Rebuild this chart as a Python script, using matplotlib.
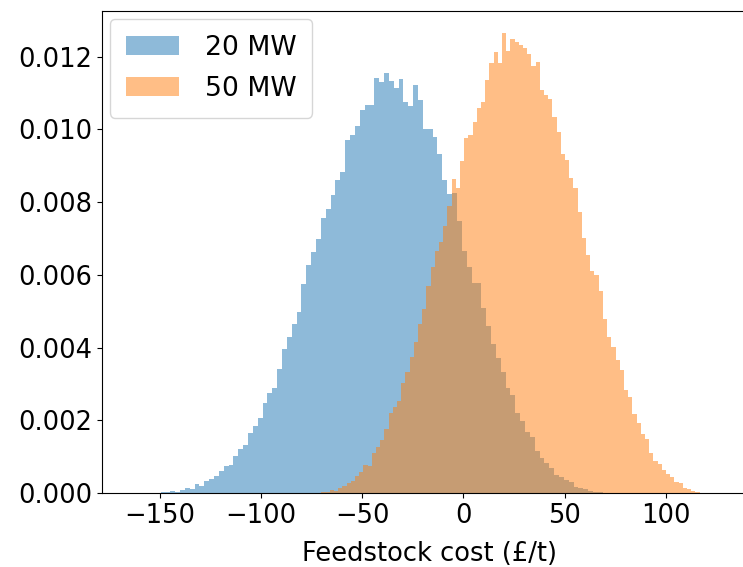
import numpy as np
from matplotlib import pyplot as plt

# bin heights, in units of 1e-3 (density)
heights_20mw = [0.03, 0.03, 0.06, 0.04, 0.07, 0.14, 0.11, 0.26, 0.18, 0.32,
                0.39, 0.48, 0.60, 0.74, 0.76, 1.03, 1.20, 1.31, 1.66, 1.84,
                2.06, 2.48, 2.76, 2.90, 3.42, 3.96, 4.28, 4.66, 4.99, 5.74,
                6.28, 6.63, 6.99, 7.57, 7.82, 8.20, 8.61, 8.82, 9.70, 9.83,
                10.09, 10.52, 10.66, 10.66, 11.41, 11.30, 11.56, 11.32, 11.14, 11.37,
                10.75, 10.64, 11.21, 10.80, 10.00, 10.02, 9.78, 9.31, 8.60, 8.21,
                8.24, 7.49, 6.66, 6.20, 5.78, 5.78, 5.09, 4.59, 4.11, 3.71,
                3.32, 2.89, 2.70, 2.20, 1.99, 1.69, 1.53, 1.16, 0.97, 0.82,
                0.68, 0.50, 0.45, 0.35, 0.29, 0.16, 0.13, 0.11, 0.06, 0.04, 0.03]
heights_50mw = [0.01, 0.02, 0.03, 0.09, 0.06, 0.14, 0.20, 0.28, 0.32, 0.46,
                0.57, 0.78, 0.74, 1.10, 1.26, 1.45, 1.77, 2.19, 2.37, 2.53,
                3.03, 3.33, 3.75, 4.14, 4.64, 5.06, 5.70, 6.21, 6.65, 6.91,
                7.34, 7.89, 8.64, 8.39, 9.12, 9.75, 9.84, 10.21, 10.59, 10.76,
                11.36, 11.82, 12.12, 11.83, 12.65, 12.15, 12.48, 12.40, 12.33, 12.24,
                12.07, 11.75, 11.84, 11.07, 10.95, 10.84, 10.34, 9.92, 9.32, 9.15,
                8.66, 8.38, 7.73, 7.01, 6.54, 6.11, 5.99, 5.55, 4.79, 4.30,
                4.01, 3.67, 3.37, 2.82, 2.63, 2.18, 1.92, 1.62, 1.48, 1.11,
                0.89, 0.79, 0.63, 0.51, 0.44, 0.29, 0.27, 0.13, 0.10, 0.06, 0.04]

# first bin edge and bin width (£/t)
start_20mw, width_20mw = -149.6, 2.40
start_50mw, width_50mw = -72.2, 2.075

labels = ['20 MW', '50 MW']


def edges(start, width, n):
    return start + width * np.arange(n + 1)


fig = plt.figure(figsize=(7.43, 5.67), dpi=100)
ax = fig.add_axes([0.1373, 0.1305, 0.8815, 0.850])

series = [(heights_20mw, start_20mw, width_20mw),
          (heights_50mw, start_50mw, width_50mw)]
for (h, s, w), lab in zip(series, labels):
    e = edges(s, w, len(h))
    centers = (e[:-1] + e[1:]) / 2
    ax.hist(centers, bins=e, weights=np.array(h) / 1000, alpha=0.5,
            histtype='stepfilled', label=lab)

ax.set_xlim(-178.5, 145)
ax.set_ylim(0, 0.01325)
ax.set_xticks([-150, -100, -50, 0, 50, 100])
ax.tick_params(labelsize=18.5)
ax.set_xlabel('Feedstock cost (£/t)', fontsize=18.5, labelpad=9)
ax.legend(loc='upper left', fontsize=19.2, borderaxespad=0.3,
          borderpad=0.6, labelspacing=0.55, handletextpad=0.95)

fig.savefig('out.png', dpi=100)
